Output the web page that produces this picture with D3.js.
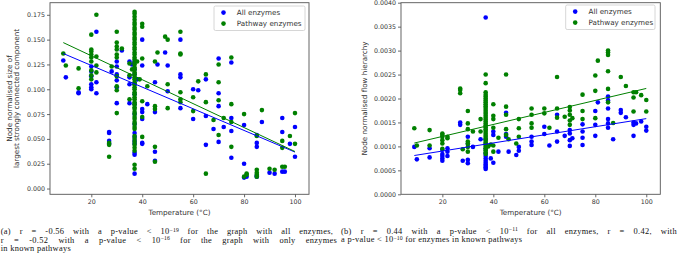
<!DOCTYPE html>
<html>
<head>
<meta charset="utf-8">
<script src="https://cdn.jsdelivr.net/npm/d3@7"></script>
<style>
  body { margin: 0; background: #fff; }
  svg { display: block; }
</style>
</head>
<body>
<div id="chart"></div>
<script>
// ---- data ----
const tempTicks = [20, 40, 60, 80, 100];
const sccTicks = [0, 0.025, 0.05, 0.075, 0.1, 0.125, 0.15, 0.175];
const flowTicks = [0, 0.0005, 0.001, 0.0015, 0.002, 0.0025, 0.003, 0.0035, 0.004];
const seriesNames = ["All enzymes", "Pathway enzymes"];

// (a) size of largest strongly connected component
const sccAll = [
  [9,0.129],[10,0.112],[15,0.096],[15,0.097],
  [20,0.123],[20,0.118],[20,0.113],[20,0.105],[20,0.102],[20,0.100],
  [22,0.158],[22,0.107],[22,0.096],
  [27,0.057],[27,0.056],[27,0.048],[27,0.045],[28,0.118],
  [30,0.128],[30,0.123],[30,0.115],[30,0.109],[30,0.102],[30,0.086],
  [32,0.139],[35,0.128],[35,0.112],[35,0.105],[35,0.086],
  [36,0.125],[38,0.110],
  [40,0.150],[40,0.124],[40,0.080],[40,0.077],[40,0.070],[40,0.046],[40,0.045],
  [42,0.085],[45,0.107],[45,0.077],[45,0.037],[45,0.028],[46,0.125],
  [49,0.137],[50,0.124],[50,0.098],
  [55,0.150],[55,0.115],[55,0.112],[55,0.081],
  [60,0.100],[60,0.070],[62,0.099],
  [65,0.110],[65,0.073],[65,0.044],[68,0.060],
  [70,0.131],[70,0.096],[70,0.083],[70,0.047],[72,0.062],
  [75,0.127],[75,0.071],[75,0.058],[75,0.031],
  [80,0.064],[80,0.025],[80,0.011],[81,0.012],
  [85,0.054],[85,0.046],[85,0.042],[85,0.013],[85,0.012],
  [87,0.067],[90,0.016],[92,0.015],
  [95,0.071],[95,0.057],[95,0.017],[96,0.017],[98,0.045],[100,0.062],[100,0.032]
];
const sccAll37 = [0.015, 0.034, 0.036, 0.045, 0.048, 0.052, 0.056, 0.065, 0.075,
  0.085, 0.095, 0.105, 0.115, 0.120, 0.128];

const sccPathway = [
  [9,0.136],[10,0.124],[15,0.121],[15,0.101],
  [20,0.155],[20,0.140],[20,0.138],[20,0.135],[20,0.132],[20,0.128],[20,0.119],[20,0.114],[20,0.110],
  [22,0.175],[22,0.133],[22,0.124],[22,0.117],
  [27,0.046],[27,0.044],[27,0.032],[28,0.123],
  [30,0.158],[30,0.147],[30,0.143],[30,0.140],[30,0.135],[30,0.132],[30,0.113],[30,0.103],[30,0.099],[30,0.076],
  [32,0.141],[35,0.126],[35,0.114],[35,0.090],
  [36,0.120],[38,0.128],[39,0.110],
  [40,0.166],[40,0.163],[40,0.131],[40,0.088],[40,0.072],[40,0.052],
  [42,0.103],[45,0.128],[45,0.083],[45,0.080],[45,0.042],[45,0.027],[46,0.137],
  [49,0.153],[50,0.150],[50,0.105],[50,0.081],
  [55,0.158],[55,0.136],[55,0.135],[55,0.097],[55,0.090],[55,0.087],
  [60,0.092],[60,0.078],[62,0.108],
  [65,0.115],[65,0.087],[65,0.015],[68,0.069],
  [70,0.125],[70,0.107],[70,0.089],[70,0.054],[72,0.071],
  [75,0.132],[75,0.085],[75,0.067],[75,0.042],
  [80,0.075],[80,0.012],[81,0.014],[81,0.015],
  [85,0.053],[85,0.019],[85,0.016],[85,0.014],[85,0.012],
  [87,0.079],[90,0.020],[92,0.019],[95,0.048],[95,0.022],[96,0.022],[95,0.041],[98,0.053],[100,0.076],[100,0.045]
];
const sccPathway37 = [0.178, 0.176, 0.173, 0.170, 0.167, 0.165, 0.162, 0.160, 0.157, 0.155,
  0.152, 0.150, 0.147, 0.145, 0.142, 0.140, 0.137, 0.135, 0.132, 0.130, 0.127, 0.125,
  0.122, 0.120, 0.117, 0.115, 0.112, 0.110, 0.107, 0.105, 0.102, 0.100, 0.097, 0.095,
  0.092, 0.090, 0.087, 0.085, 0.082, 0.080, 0.077, 0.075, 0.072, 0.070, 0.067, 0.065,
  0.062, 0.060, 0.053, 0.050, 0.047, 0.044, 0.041, 0.038, 0.024, 0.020];

const sccFitAll = [[9, 0.136], [100, 0.0367]];
const sccFitPathway = [[9, 0.147], [100, 0.0373]];

// (b) flow hierarchy
const flowAll = [
  [9,0.00099],[10,0.00073],[15,0.00096],[15,0.00077],
  [20,0.00093],[20,0.00084],[20,0.00080],[20,0.00075],[20,0.00070],
  [22,0.00096],[22,0.00089],[22,0.00080],
  [27,0.00150],[27,0.00145],[28,0.00070],
  [30,0.00120],[30,0.00105],[30,0.00072],[30,0.00065],
  [32,0.00099],[35,0.00115],
  [39,0.00075],[40,0.00131],[40,0.00124],[40,0.00066],
  [42,0.00089],[45,0.00170],[45,0.00126],[45,0.00120],[46,0.00089],
  [49,0.00082],[50,0.00099],[50,0.00091],
  [55,0.00120],[55,0.00110],[55,0.00103],
  [60,0.00141],[60,0.00126],[62,0.00102],
  [65,0.00166],[65,0.00131],[65,0.00110],[68,0.00122],
  [70,0.00134],[70,0.00127],[70,0.00113],[70,0.00101],[71,0.00117],
  [75,0.00146],[75,0.00131],[75,0.00118],[75,0.00103],
  [80,0.00174],[80,0.00145],[80,0.00122],[81,0.00192],
  [85,0.00204],[85,0.00196],[85,0.00179],[85,0.00157],[85,0.00148],[85,0.00139],
  [87,0.00115],[90,0.00176],[90,0.00170],[92,0.00161],
  [95,0.00150],[95,0.00145],[95,0.00122],[96,0.00148],[98,0.00152],[100,0.00141],[100,0.00133]
];
const flowAll37 = [0.00369, 0.00115, 0.00105, 0.00095, 0.00085, 0.00080, 0.00075,
  0.00070, 0.00066, 0.00062, 0.00059, 0.00056, 0.00053];

const flowPathway = [
  [9,0.00138],[10,0.00102],[15,0.00134],[15,0.00102],
  [20,0.00127],[20,0.00124],[20,0.00120],[20,0.00113],[20,0.00106],[20,0.00095],
  [22,0.00120],[22,0.00117],
  [27,0.00221],[27,0.00218],[27,0.00211],[28,0.00094],
  [30,0.00174],[30,0.00148],[30,0.00136],[30,0.00110],[30,0.00106],[30,0.00099],[30,0.00089],
  [32,0.00131],[35,0.00157],[35,0.00131],
  [38,0.00100],[39,0.00104],
  [40,0.00188],[40,0.00164],[40,0.00157],[40,0.00139],[40,0.00102],[40,0.00089],
  [42,0.00118],[45,0.00250],[45,0.00183],[45,0.00166],[45,0.00136],[45,0.00124],[46,0.00115],
  [49,0.00106],[50,0.00157],[50,0.00138],[50,0.00120],
  [55,0.00179],[55,0.00166],[55,0.00148],[55,0.00139],
  [60,0.00179],[60,0.00169],[62,0.00139],
  [65,0.00245],[65,0.00179],[65,0.00160],[68,0.00162],
  [70,0.00182],[70,0.00175],[70,0.00166],[70,0.00154],[70,0.00145],[71,0.00159],
  [75,0.00208],[75,0.00174],[75,0.00157],
  [80,0.00248],[80,0.00216],[80,0.00159],[81,0.00279],
  [85,0.00300],[85,0.00296],[85,0.00291],[85,0.00257],[85,0.00220],[85,0.00192],
  [87,0.00149],[90,0.00245],[92,0.00226],
  [95,0.00213],[95,0.00202],[95,0.00173],[96,0.00213],[98,0.00207],[100,0.00197],[100,0.00173]
];
const flowPathway37 = [0.00250, 0.00232, 0.00213, 0.00208, 0.00204, 0.00200, 0.00196,
  0.00192, 0.00188, 0.00184, 0.00180, 0.00176, 0.00172, 0.00168, 0.00164, 0.00160,
  0.00156, 0.00152, 0.00148, 0.00144, 0.00140, 0.00136, 0.00132, 0.00128, 0.00124,
  0.00120, 0.00116, 0.00112, 0.00108, 0.00104, 0.00100, 0.00096, 0.00092, 0.00088, 0.00084];

const flowFitAll = [[9, 0.00081], [100, 0.00158]];
const flowFitPathway = [[9, 0.00107], [100, 0.00221]];

// ---- drawing ----
const W = 685, H = 267;
const BLUE = "#0000ff", GREEN = "#008000";
const SANS = "DejaVu Sans";

const svg = d3.select("#chart").append("svg")
  .attr("width", W).attr("height", H)
  .attr("viewBox", "0 0 " + W + " " + H);

function at37(vals) { return vals.map(v => [37, v]); }

function drawPanel(p) {
  const x = d3.scaleLinear().domain([3.78, 105.5]).range([p.left, p.right]);
  const y = d3.scaleLinear().domain(p.yDomain).range([p.bottom, p.top]);
  const g = svg.append("g");

  // points: all enzymes first, pathway enzymes on top
  [[p.all, BLUE], [p.pathway, GREEN]].forEach(([pts, col]) => {
    g.append("g").selectAll("circle").data(pts).join("circle")
      .attr("cx", d => x(d[0]))
      .attr("cy", d => y(d[1]))
      .attr("r", 2.3)
      .attr("fill", col);
  });

  // regression lines
  const line = d3.line().x(d => x(d[0])).y(d => y(d[1]));
  g.append("path").attr("d", line(p.fitAll)).attr("stroke", BLUE).attr("stroke-width", 1).attr("fill", "none");
  g.append("path").attr("d", line(p.fitPathway)).attr("stroke", GREEN).attr("stroke-width", 1).attr("fill", "none");

  // axes
  const xAxis = g.append("g").attr("transform", "translate(0," + p.bottom + ")")
    .call(d3.axisBottom(x).tickValues(tempTicks).tickSize(3).tickPadding(2));
  const yAxis = g.append("g").attr("transform", "translate(" + p.left + ",0)")
    .call(d3.axisLeft(y).tickValues(p.yTicks).tickFormat(d3.format(p.fmt)).tickSize(3).tickPadding(2));
  [xAxis, yAxis].forEach(a => {
    a.select(".domain").remove();
    a.selectAll("line").attr("stroke", "#444").attr("stroke-width", 0.8);
    a.selectAll("text").attr("fill", "#333").attr("font-family", SANS).attr("font-size", 6.3);
  });

  // frame
  g.append("rect")
    .attr("x", p.left).attr("y", p.top)
    .attr("width", p.right - p.left).attr("height", p.bottom - p.top)
    .attr("fill", "none").attr("stroke", "#555").attr("stroke-width", 0.9);

  // axis titles
  g.append("text")
    .attr("x", (p.left + p.right) / 2).attr("y", 215)
    .attr("text-anchor", "middle")
    .attr("font-family", SANS).attr("font-size", 7.2).attr("fill", "#333")
    .text("Temperature (°C)");
  const cy = (p.top + p.bottom) / 2;
  p.yLabel.forEach((t, i) => {
    g.append("text")
      .attr("transform", "translate(" + p.yLabelX[i] + "," + cy + ") rotate(-90)")
      .attr("text-anchor", "middle")
      .attr("font-family", SANS).attr("font-size", 7.2).attr("fill", "#333")
      .text(t);
  });

  // legend
  const lg = g.append("g").attr("transform", "translate(" + p.legend[0] + "," + p.legend[1] + ")");
  lg.append("rect")
    .attr("width", p.legend[2]).attr("height", 24.5).attr("rx", 1.5)
    .attr("fill", "#fff").attr("fill-opacity", 0.8)
    .attr("stroke", "#ccc").attr("stroke-width", 0.8);
  seriesNames.forEach((name, i) => {
    lg.append("circle").attr("cx", 9.5).attr("cy", 6.6 + i * 11).attr("r", 2.3)
      .attr("fill", i ? GREEN : BLUE);
    lg.append("text").attr("x", 22.8).attr("y", 9.2 + i * 11)
      .attr("font-family", SANS).attr("font-size", 7.2).attr("fill", "#333")
      .text(name);
  });
}

drawPanel({
  left: 50, right: 309, top: 2.7, bottom: 194.3,
  yDomain: [-0.0058, 0.1872], yTicks: sccTicks, fmt: ".3f",
  all: sccAll.concat(at37(sccAll37)),
  pathway: sccPathway.concat(at37(sccPathway37)),
  fitAll: sccFitAll, fitPathway: sccFitPathway,
  yLabel: ["Node normalised size of", "largest strongly connected component"],
  yLabelX: [11.5, 19],
  legend: [214, 6, 91]
});

drawPanel({
  left: 401, right: 660.3, top: 2.7, bottom: 194.3,
  yDomain: [0, 0.004], yTicks: flowTicks, fmt: ".4f",
  all: flowAll.concat(at37(flowAll37)),
  pathway: flowPathway.concat(at37(flowPathway37)),
  fitAll: flowFitAll, fitPathway: flowFitPathway,
  yLabel: ["Node normalised flow hierarchy"],
  yLabelX: [366.5],
  legend: [565.7, 5, 89.3]
});

// ---- captions (justified lines like the typeset figure) ----
const SERIF = "'Liberation Serif', 'DejaVu Serif', serif";
const LS = 0.3;  // a little tracking, the typeset face is wider than Times

// size the serif font so that "in known pathways" is as wide as in the figure (~70.5px)
const probeText = "in known pathways";
const probe = svg.append("text").attr("font-family", SERIF).attr("font-size", 10).text(probeText);
const capSize = 10 * (70.5 - probeText.length * LS) / probe.node().getComputedTextLength();
probe.remove();

const captions = [
  { x: 0.7, y: 234.3, width: 332.5, parts: ["(a) r = -0.56 with a p-value < 10", "−19", " for the graph with all enzymes,"] },
  { x: 0.7, y: 242.6, width: 336.5, parts: ["r = -0.52 with a p-value < 10", "−16", " for the graph with only enzymes"] },
  { x: 0.7, y: 250.9, width: null, parts: ["in known pathways"] },
  { x: 341, y: 234.0, width: 336, parts: ["(b) r = 0.44 with a p-value < 10", "−11", " for all enzymes, r = 0.42, with"] },
  { x: 341, y: 242.3, width: null, parts: ["a p-value < 10", "−10", " for enzymes in known pathways"] }
];

captions.forEach(c => {
  const t = svg.append("text")
    .attr("x", c.x).attr("y", c.y)
    .attr("font-family", SERIF).attr("font-size", capSize)
    .attr("letter-spacing", LS)
    .attr("fill", "#111");
  c.parts.forEach((s, i) => {
    const ts = t.append("tspan").text(s);
    if (i === 1) ts.attr("font-size", capSize * 0.68).attr("dy", -2.6).attr("letter-spacing", 0.1);
    if (i === 2) ts.attr("dy", 2.6);
  });
  if (c.width) {
    const natural = t.node().getComputedTextLength();
    const spaces = c.parts.join("").split(" ").length - 1;
    t.attr("word-spacing", Math.max(0, (c.width - natural) / spaces));
  }
});
</script>
</body>
</html>
